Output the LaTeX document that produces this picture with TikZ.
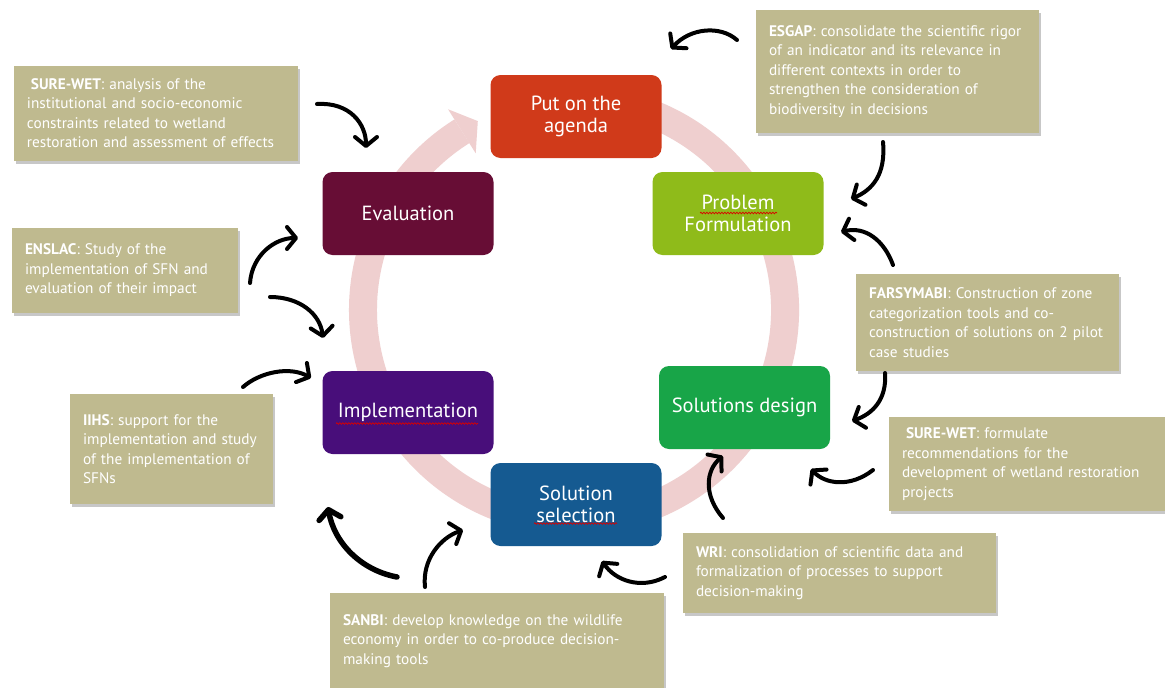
\documentclass[tikz,border=0pt]{standalone}
\usepackage{fontspec}
\setmainfont{PT Sans}
\usetikzlibrary{arrows.meta,shadows,decorations.pathmorphing}
\definecolor{tan}{RGB}{191,186,143}
\definecolor{ringpink}{RGB}{239,207,207}
\definecolor{cagenda}{RGB}{208,58,26}
\definecolor{cprob}{RGB}{143,187,26}
\definecolor{cdesign}{RGB}{24,165,72}
\definecolor{csel}{RGB}{21,90,145}
\definecolor{cimpl}{RGB}{72,14,122}
\definecolor{ceval}{RGB}{103,13,53}
\begin{document}
\begin{tikzpicture}[x=1pt,y=-1pt,
  stage/.style={rounded corners=10pt, minimum width=171pt, minimum height=83pt, text=white,
    font=\fontsize{20.5}{22.5}\selectfont, align=center, inner sep=0pt},
  note/.style={fill=tan, text=white, font=\fontsize{15.3}{19.5}\selectfont, align=left,
    inner xsep=13pt, inner ysep=0pt,
    drop shadow={shadow xshift=2pt, shadow yshift=-3pt, fill=black, opacity=0.22}},
  hand/.style={draw=black, line width=4pt, line cap=round,
    -{Straight Barb[length=9pt,width=22pt,round]}},
  squig/.style={draw=red!85!black, line width=0.7pt, decorate,
    decoration={snake, amplitude=0.8pt, segment length=3pt}}
]
\useasboundingbox (0,0) rectangle (1165,688);
\fill[white] (0,0) rectangle (1165,688);

% cycle ring
\draw[ringpink, line width=28pt] (646.2,111.7) arc[start angle=70, end angle=-237.9, radius=211pt];
\fill[ringpink] (448.1,109.3) -- (477.8,121.1) -- (475.7,153.3) -- cycle;

% stages
\node[stage, fill=cagenda] (agenda) at (576,116.5) {Put on the\\agenda};
\node[stage, fill=cprob] (prob) at (738,213.5) {Problem\\Formulation};
\node[stage, fill=cdesign] (design) at (744.5,407.5) {Solutions design};
\node[stage, fill=csel] (sel) at (576,504.5) {Solution\\selection};
\node[stage, fill=cimpl] (impl) at (408,412.5) {Implementation};
\node[stage, fill=ceval] (eval) at (408,213.5) {Evaluation};

\draw[squig] ([shift={(-38,-0.5)}]prob.center) -- ([shift={(39,-0.5)}]prob.center);
\draw[squig] ([shift={(-72,11)}]impl.center) -- ([shift={(70,11)}]impl.center);
\draw[squig] ([shift={(-42,19)}]sel.center) -- ([shift={(41,19)}]sel.center);

% notes
\node[note, minimum height=95pt, text width=258pt] (surewetA) at (156,113)
  {\hspace*{4pt}\textbf{SURE-WET}: analysis of the\\institutional and socio-economic\\constraints related to wetland\\restoration and assessment of effects};
\node[note, minimum height=123pt, text width=257pt] (esgap) at (897.5,71.5)
  {\textbf{ESGAP}: consolidate the scientific rigor\\of an indicator and its relevance in\\different contexts in order to\\strengthen the consideration of\\biodiversity in decisions};
\node[note, minimum height=85pt, text width=200pt] (enslac) at (125,270.5)
  {\textbf{ENSLAC}: Study of the\\implementation of SFN and\\evaluation of their impact};
\node[note, minimum height=110pt, text width=177pt] (iihs) at (171.5,449)
  {\textbf{IIHS}: support for the\\implementation and study\\of the implementation of\\SFNs};
\node[note, minimum height=97pt, text width=237pt] (farsy) at (987.5,322.5)
  {\textbf{FARSYMABI}: Construction of zone\\categorization tools and co-\\construction of solutions on 2 pilot\\case studies};
\node[note, minimum height=94pt, text width=250pt] (surewetB) at (1027,464)
  {\hspace*{4pt}\textbf{SURE-WET}: formulate\\recommendations for the\\development of wetland restoration\\projects};
\node[note, minimum height=80pt, text width=287pt] (wri) at (839.5,573)
  {\textbf{WRI}: consolidation of scientific data and\\formalization of processes to support\\decision-making};
\node[note, minimum height=97pt, text width=308pt] (sanbi) at (497,641)
  {\textbf{SANBI}: develop knowledge on the wildlife\\economy in order to co-produce decision-\\making tools};

% hand-drawn arrows
\coordinate (a1s) at (317,104);   \coordinate (a1e) at (366,148);
\coordinate (a2s) at (737,40);    \coordinate (a2e) at (671,49);
\coordinate (a3s) at (883,142);   \coordinate (a3e) at (851,199);
\coordinate (a4s) at (893,265);   \coordinate (a4e) at (841,232);
\coordinate (a5s) at (885,373);   \coordinate (a5e) at (852,421);
\coordinate (a6s) at (873,470);   \coordinate (a6e) at (811,469);
\coordinate (a7s) at (723,518);   \coordinate (a7e) at (723,456);
\coordinate (a8s) at (665,577);   \coordinate (a8e) at (602,561);
\coordinate (a9s) at (425,587);   \coordinate (a9e) at (463,530);
\coordinate (a10s) at (397,577);  \coordinate (a10e) at (328,507);
\coordinate (a11s) at (243,387);  \coordinate (a11e) at (311,378);
\coordinate (a12s) at (250,283);  \coordinate (a12e) at (298,238);
\coordinate (a13s) at (270,297);  \coordinate (a13e) at (323,338);

\draw[hand] (a1s) .. controls (350,102) and (366,124) .. (a1e);
\draw[hand] (a2s) .. controls (720,25) and (690,28) .. (a2e);
\draw[hand] (a3s) .. controls (886,175) and (872,190) .. (a3e);
\draw[hand] (a4s) .. controls (884,240) and (865,226) .. (a4e);
\draw[hand] (a5s) .. controls (887,400) and (872,414) .. (a5e);
\draw[hand] (a6s) .. controls (850,488) and (825,484) .. (a6e);
\draw[hand] (a7s) .. controls (703,495) and (706,470) .. (a7e);
\draw[hand] (a8s) .. controls (640,590) and (615,580) .. (a8e);
\draw[hand] (a9s) .. controls (422,560) and (440,538) .. (a9e);
\draw[hand, line width=5.5pt] (a10s) .. controls (360,570) and (334,542) .. (a10e);
\draw[hand] (a11s) .. controls (260,372) and (290,366) .. (a11e);
\draw[hand] (a12s) .. controls (252,255) and (275,238) .. (a12e);
\draw[hand] (a13s) .. controls (300,297) and (320,314) .. (a13e);
\end{tikzpicture}
\end{document}
